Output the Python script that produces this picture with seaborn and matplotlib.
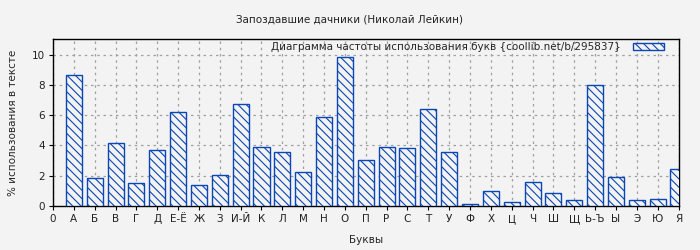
import matplotlib
matplotlib.use("Agg")
import matplotlib.pyplot as plt
import seaborn as sns
import pandas as pd
from matplotlib.patches import Patch

letters = ["А", "Б", "В", "Г", "Д", "Е-Ё", "Ж", "З", "И-Й", "К", "Л", "М", "Н", "О",
           "П", "Р", "С", "Т", "У", "Ф", "Х", "Ц", "Ч", "Ш", "Щ", "Ь-Ъ", "Ы", "Э", "Ю", "Я"]
values = [8.68, 1.82, 4.13, 1.49, 3.67, 6.18, 1.36, 2.02, 6.77, 3.93, 3.54, 2.22, 5.85, 9.87,
          3.01, 3.93, 3.80, 6.44, 3.54, 0.11, 0.97, 0.24, 1.56, 0.84, 0.37, 8.02, 1.91, 0.37, 0.44, 2.42]
tick_labels = ["0"] + letters
title = "Запоздавшие дачники (Николай Лейкин)"
legend_label = "Диаграмма частоты использования букв {coollib.net/b/295837}"
xlabel = "Буквы"
ylabel = "% использования в тексте"

bg = "#f3f3f3"
blue = "#0a47b5"
HATCH = "\\\\\\\\"

sns.set_theme(style="white")
plt.rcParams["font.family"] = ["DejaVu Sans"]
plt.rcParams["hatch.linewidth"] = 0.8
plt.rcParams["hatch.color"] = blue

df = pd.DataFrame({"letter": letters, "value": values})

fig = plt.figure(figsize=(7, 2.5), dpi=100, facecolor=bg)
ax = fig.add_axes([0.0757, 0.176, 0.8936, 0.666])
ax.set_facecolor(bg)

sns.barplot(data=df, x="letter", y="value", order=tick_labels, width=0.77,
            color=bg, edgecolor=blue, linewidth=1.0, ax=ax, zorder=3)
for p in ax.patches:
    p.set_hatch(HATCH)
    p.set_facecolor(bg)
    p.set_edgecolor(blue)

ax.set_xlim(0, 30)
ax.set_ylim(0, 11)
ax.set_xticks(range(len(tick_labels)))
ax.set_xticklabels(tick_labels, fontsize=7.5)
ax.set_yticks([0, 2, 4, 6, 8, 10])
ax.set_yticklabels(["0", "2", "4", "6", "8", "10"], fontsize=7.5)
ax.grid(True, color="#a0a0a0", linestyle=(0, (2, 3)), linewidth=0.9, zorder=0)
ax.set_axisbelow(True)
for s in ax.spines.values():
    s.set_visible(True)
    s.set_color("black")
    s.set_linewidth(1.0)
ax.tick_params(axis="both", length=3, width=0.8, color="black", pad=3,
               bottom=True, left=True, labelcolor="#222222")

ax.set_xlabel(xlabel, fontsize=7.5, labelpad=8)
ax.set_ylabel(ylabel, fontsize=7.5, labelpad=10)
fig.text(0.5, 0.922, title, ha="center", va="center", fontsize=7.5, color="#222222")

handle = Patch(facecolor=bg, edgecolor=blue, hatch=HATCH, linewidth=1.0)
leg = ax.legend(handles=[handle], labels=[legend_label], loc="upper right",
                bbox_to_anchor=(0.98, 0.995), frameon=False, markerfirst=False,
                fontsize=7.5, handlelength=3.0, handleheight=0.58,
                borderaxespad=0.0, borderpad=0.2, handletextpad=1.15)

fig.savefig("out.png", dpi=100, facecolor=bg)
